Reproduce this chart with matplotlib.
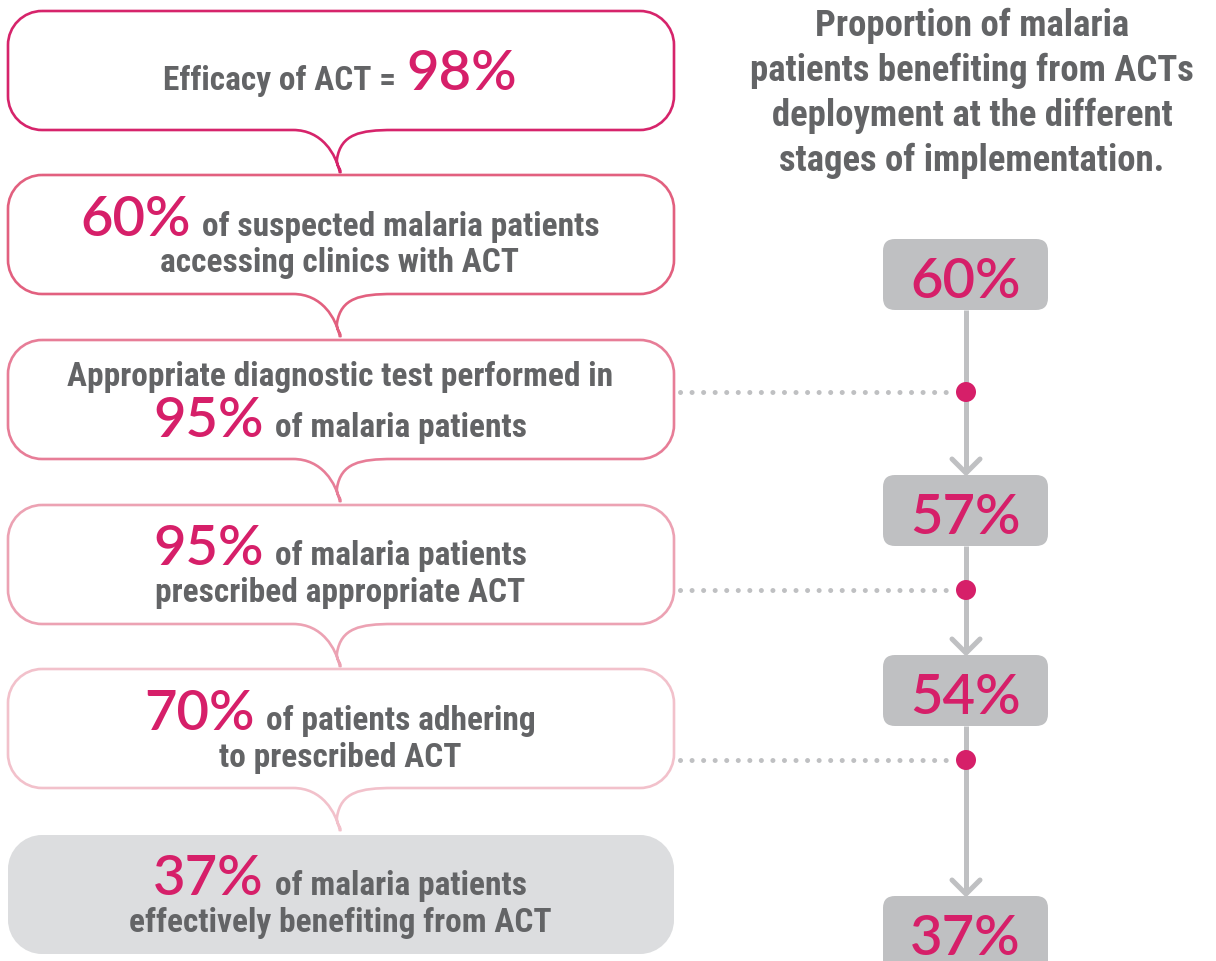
import matplotlib
matplotlib.use("Agg")
import matplotlib.pyplot as plt
from matplotlib.path import Path
from matplotlib.patches import PathPatch, FancyBboxPatch, Circle

efficacy = 98
access = 60
diagnosed = 95
prescribed = 95
adherence = 70
benefit = 37
cumulative = [60, 57, 54, 37]

title_lines = ["Proportion of malaria",
               "patients benefiting from ACTs",
               "deployment at the different",
               "stages of implementation."]

box_lines = [
    [[("Efficacy of ACT =", "g"), (f"{efficacy}%", "p")]],
    [[(f"{access}%", "p"), ("of suspected malaria patients", "g")],
     [("accessing clinics with ACT", "g")]],
    [[("Appropriate diagnostic test performed in", "g")],
     [(f"{diagnosed}%", "p"), ("of malaria patients", "g")]],
    [[(f"{prescribed}%", "p"), ("of malaria patients", "g")],
     [("prescribed appropriate ACT", "g")]],
    [[(f"{adherence}%", "p"), ("of patients adhering", "g")],
     [("to prescribed ACT", "g")]],
    [[(f"{benefit}%", "p"), ("of malaria patients", "g")],
     [("effectively benefiting from ACT", "g")]],
]

GREY_TXT = "#636466"
PINK = "#d61f69"
LIGHT = "#bfc0c2"
edge_colors = ["#d6246b", "#e2607f", "#e77d97", "#eca2b3", "#f2c1cb"]

# layout (pixels)
box_tops = [12, 176, 341, 506, 670, 836]
box_h = 119
box_x0, box_x1, rad = 8, 674, 34
baselines = [[78], [60, 96], [45, 96], [59, 96], [60, 97], [59, 96]]
text_cx = 340

num_tops = [240, 476, 656, 897]
num_x0, num_w, num_h = 883, 165, 71
line_x = 966
dot_ys = [393, 591, 761]

COND = ["Roboto Condensed", "DejaVu Sans"]
styles = {
    "g": dict(family=COND, stretch="condensed", weight="bold", size=24, color=GREY_TXT),
    "p": dict(family=["Lato", "DejaVu Sans"], weight="semibold", size=40.5, color=PINK),
}

fig = plt.figure(figsize=(12.16, 9.62), dpi=100)
ax = fig.add_axes([0, 0, 1, 1])
ax.set_xlim(0, 1216)
ax.set_ylim(962, 0)
ax.axis("off")
renderer = fig.canvas.get_renderer()


def bubble(y0, y1, tail):
    x0, x1, r = box_x0, box_x1, rad
    k = 0.55 * r
    verts = [(x0 + r, y0), (x1 - r, y0),
             (x1 - r + k, y0), (x1, y0 + r - k), (x1, y0 + r),
             (x1, y1 - r),
             (x1, y1 - r + k), (x1 - r + k, y1), (x1 - r, y1)]
    codes = [Path.MOVETO, Path.LINETO,
             Path.CURVE4, Path.CURVE4, Path.CURVE4,
             Path.LINETO,
             Path.CURVE4, Path.CURVE4, Path.CURVE4]
    if tail:
        verts += [(393, y1),
                  (360, y1), (341, y1 + 4), (337, y1 + 29),
                  (336, y1 + 37), (342, y1 + 39), (340, y1 + 43),
                  (336, y1 + 24), (322, y1), (293, y1)]
        codes += [Path.LINETO] + [Path.CURVE4] * 9
    verts += [(x0 + r, y1),
              (x0 + r - k, y1), (x0, y1 - r + k), (x0, y1 - r),
              (x0, y0 + r),
              (x0, y0 + r - k), (x0 + r - k, y0), (x0 + r, y0)]
    codes += [Path.LINETO,
              Path.CURVE4, Path.CURVE4, Path.CURVE4,
              Path.LINETO,
              Path.CURVE4, Path.CURVE4, Path.CURVE4]
    return Path(verts, codes)


def mixed_line(cx, y, parts, gap=11):
    texts = [ax.text(0, y, s, ha="left", va="baseline", **styles[k]) for s, k in parts]
    widths = [t.get_window_extent(renderer).width for t in texts]
    x = cx - (sum(widths) + gap * (len(texts) - 1)) / 2
    for t, w in zip(texts, widths):
        t.set_x(x)
        x += w + gap


# left column of speech bubbles
for i, top in enumerate(box_tops):
    bottom = top + box_h
    if i < len(edge_colors):
        ax.add_patch(PathPatch(bubble(top, bottom, True), facecolor="white",
                               edgecolor=edge_colors[i], lw=1.9))
    else:
        ax.add_patch(PathPatch(bubble(top, bottom, False), facecolor="#dcdddf",
                               edgecolor="none"))
    for off, parts in zip(baselines[i], box_lines[i]):
        mixed_line(text_cx, top + off, parts)

# right column title
for j, s in enumerate(title_lines):
    ax.text(972, 36 + 45 * j, s, ha="center", va="baseline", family=COND,
            stretch="condensed", weight="bold", size=26.5, color=GREY_TXT)

# connectors between the cumulative boxes
for j in range(len(num_tops) - 1):
    y_start = num_tops[j] + num_h
    y_end = num_tops[j + 1] - 2
    ax.plot([line_x, line_x], [y_start, y_end], color=LIGHT, lw=3.6,
            solid_capstyle="butt", zorder=1)
    ax.plot([line_x - 14, line_x, line_x + 14], [y_end - 14, y_end, y_end - 14],
            color=LIGHT, lw=3.6, solid_capstyle="round", solid_joinstyle="miter", zorder=1)
    ax.plot([680, line_x - 12], [dot_ys[j], dot_ys[j]], color=LIGHT, lw=3.6,
            linestyle=(0, (0.01, 2.3)), dash_capstyle="round", zorder=1)
    ax.add_patch(Circle((line_x, dot_ys[j]), 10, facecolor=PINK, edgecolor="none", zorder=3))

# cumulative value boxes
for top, v in zip(num_tops, cumulative):
    ax.add_patch(FancyBboxPatch((num_x0, top), num_w, num_h + (10 if top > 850 else 0),
                                boxstyle="round,pad=0,rounding_size=12",
                                facecolor=LIGHT, edgecolor="none", zorder=2))
    ax.text(num_x0 + num_w / 2, top + 58, f"{v}%", ha="center", va="baseline",
            zorder=4, **styles["p"])

fig.savefig("out.png", dpi=100)
